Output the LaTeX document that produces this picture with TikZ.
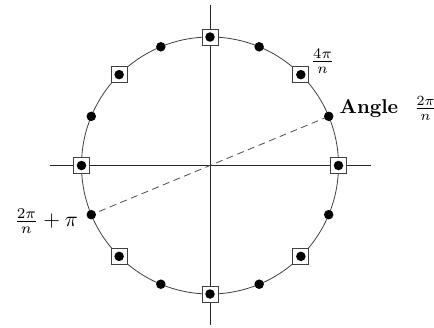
\RequirePackage{fix-cm}
\documentclass[tikz,border=0pt]{standalone}
\usepackage{amsmath}
\usepackage{graphicx}
\usetikzlibrary{calc}
\begin{document}
\begin{tikzpicture}[x=1pt,y=-1pt,
  axis/.style={line width=0.8pt,black!85},
  ring/.style={line width=0.8pt,black!75},
  diam/.style={dashed,dash pattern=on 7pt off 4.5pt,line width=0.8pt,black!70},
  sq/.style={draw=black!75,line width=0.8pt,fill=white,minimum size=16pt,inner sep=0pt,rectangle},
  dot/.style={circle,fill=black,minimum size=9.5pt,inner sep=0pt},
  lab/.style={inner sep=0pt,font=\normalsize}]
\useasboundingbox (0,0) rectangle (434,327);
\coordinate (O) at (210,165.5);
\coordinate (xl) at (50,165.5);
\coordinate (xr) at (371,165.5);
\coordinate (yt) at (210,5);
\coordinate (yb) at (210,325);
\draw[axis] (xl) -- (xr);
\draw[axis] (yt) -- (yb);
\draw[ring] (O) circle[radius=128.5pt];
\foreach \k in {0,...,15}{
  \coordinate (c\k) at ($(O)+({\k*22.5}:128.5pt)$);
}
\draw[diam] (c1) -- (c9);
\foreach \k in {0,2,...,14}{
  \node[sq] (s\k) at (c\k) {};
}
\foreach \k in {0,...,15}{
  \node[dot] (p\k) at (c\k) {};
}
\node[lab,anchor=base west] (l1) at (339.5,113.5) {\scalebox{2.0}{\textbf{Angle}\hspace{8pt}$\frac{2\pi}{n}$}};
\node[lab,anchor=base] (l2) at (322.5,66.5) {\scalebox{2.1}{$\frac{4\pi}{n}$}};
\node[lab,anchor=base east] (l3) at (78,226.5) {\scalebox{2.15}{$\frac{2\pi}{n}+\pi$}};
\end{tikzpicture}
\end{document}
